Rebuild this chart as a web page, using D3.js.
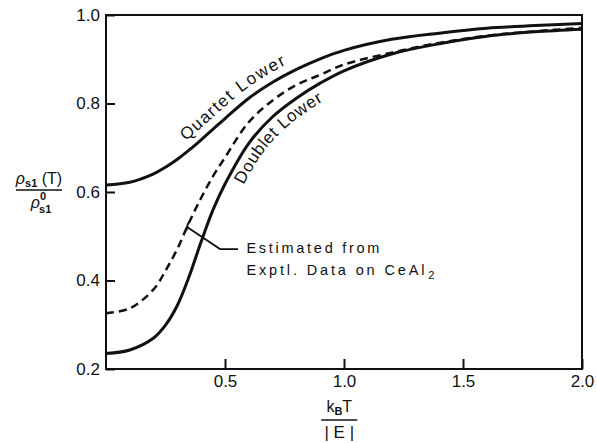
<!DOCTYPE html>
<html>
<head>
<meta charset="utf-8">
<script src="https://cdn.jsdelivr.net/npm/d3@7"></script>
<style>
  body { margin: 0; background: #fff; }
  svg { display: block; }
  text { font-family: "Liberation Sans", Arial, sans-serif; fill: #111; }
</style>
</head>
<body>
<svg width="597" height="443"></svg>
<script>
// values
var kT      = [0, 0.1, 0.2, 0.25, 0.3, 0.35, 0.4, 0.45, 0.5, 0.6, 0.7, 0.8, 0.9, 1.0, 1.2, 1.4, 1.6, 1.8, 2.0];
var quartet = [0.616, 0.622, 0.641, 0.656, 0.674, 0.695, 0.718, 0.742, 0.766, 0.812, 0.848, 0.877, 0.901, 0.920, 0.945, 0.959, 0.970, 0.976, 0.981];
var doublet = [0.235, 0.243, 0.270, 0.299, 0.344, 0.410, 0.488, 0.560, 0.618, 0.710, 0.770, 0.812, 0.846, 0.874, 0.912, 0.935, 0.952, 0.962, 0.968];
var estimated = [0.326, 0.337, 0.380, 0.422, 0.472, 0.532, 0.587, 0.636, 0.678, 0.758, 0.807, 0.842, 0.865, 0.888, 0.915, 0.937, 0.953, 0.963, 0.971];

var xTicks = [0.5, 1.0, 1.5, 2.0];
var yTicks = [0.2, 0.4, 0.6, 0.8, 1.0];

var margin = {top: 15, right: 15, bottom: 74, left: 106},
    width = 597 - margin.left - margin.right,
    height = 443 - margin.top - margin.bottom;

var svg = d3.select("svg");
var g = svg.append("g").attr("transform", "translate(" + margin.left + "," + margin.top + ")");

var x = d3.scaleLinear().domain([0, 2]).range([0, width]);
var y = d3.scaleLinear().domain([0.2, 1.0]).range([height, 0]);

//---------- axes (ticks point inward) ----------
var yAxis = g.append("g")
  .call(d3.axisLeft(y).tickValues(yTicks).tickFormat(d3.format(".1f"))
    .tickSizeInner(-9).tickSizeOuter(0).tickPadding(6));
var xAxis = g.append("g")
  .attr("transform", "translate(0," + height + ")")
  .call(d3.axisBottom(x).tickValues(xTicks).tickFormat(d3.format(".1f"))
    .tickSizeInner(-10).tickSizeOuter(0).tickPadding(6));

[yAxis, xAxis].forEach(function(a) {
  a.select(".domain").remove();
  a.selectAll("line").attr("stroke", "#111").attr("stroke-width", 2);
  a.selectAll("text").style("font-size", "17px").attr("fill", "#111")
    .style("font-family", "'Liberation Sans', Arial, sans-serif");
});

// frame
g.append("rect")
  .attr("x", x(0)).attr("y", y(1.0))
  .attr("width", x(2) - x(0)).attr("height", y(0.2) - y(1.0))
  .attr("fill", "none").attr("stroke", "#111").attr("stroke-width", 2);

//---------- curves ----------
function series(vals) { return kT.map(function(t, i) { return [t, vals[i]]; }); }

var line = d3.line()
  .x(function(d) { return x(d[0]); })
  .y(function(d) { return y(d[1]); })
  .curve(d3.curveCatmullRom.alpha(0.5));

var qPath = g.append("path").attr("id", "qcurve")
  .attr("d", line(series(quartet)))
  .attr("fill", "none").attr("stroke", "#111").attr("stroke-width", 3);

var dPath = g.append("path").attr("id", "dcurve")
  .attr("d", line(series(doublet)))
  .attr("fill", "none").attr("stroke", "#111").attr("stroke-width", 3);

var ePath = g.append("path")
  .attr("d", line(series(estimated)))
  .attr("fill", "none").attr("stroke", "#111").attr("stroke-width", 2.5)
  .attr("stroke-dasharray", "8,5");

// length along a path where it reaches a given pixel x
function offsetAt(path, px) {
  var node = path.node(), L = node.getTotalLength(), s = 0;
  while (s < L && node.getPointAtLength(s).x < px) s += 0.5;
  return s;
}
function pointAt(path, px) {
  return path.node().getPointAtLength(offsetAt(path, px));
}

// curve labels
g.append("text")
  .attr("dy", -9)
  .style("font-size", "17px").style("letter-spacing", "1.4px")
  .append("textPath")
  .attr("href", "#qcurve")
  .attr("startOffset", offsetAt(qPath, x(0.36)))
  .text("Quartet Lower");

g.append("text")
  .attr("dy", 17)
  .style("font-size", "17px").style("letter-spacing", "1.4px")
  .append("textPath")
  .attr("href", "#dcurve")
  .attr("startOffset", offsetAt(dPath, x(0.515)))
  .text("Doublet Lower");

//---------- annotation ----------
var p0 = pointAt(ePath, x(0.34));
g.append("path")
  .attr("d", "M" + p0.x + "," + p0.y + "L" + x(0.479) + "," + y(0.471) + "H" + x(0.555))
  .attr("fill", "none").attr("stroke", "#111").attr("stroke-width", 1.8);
g.append("line")
  .attr("x1", p0.x + 1).attr("y1", p0.y - 4)
  .attr("x2", p0.x - 1).attr("y2", p0.y + 4)
  .attr("stroke", "#111").attr("stroke-width", 2);

var note = g.append("g").style("font-size", "14.5px");
note.append("text")
  .attr("x", x(0.59)).attr("y", y(0.463))
  .attr("textLength", 133).attr("lengthAdjust", "spacing")
  .text("Estimated from");
var l2 = note.append("text")
  .attr("x", x(0.59)).attr("y", y(0.412));
l2.append("tspan").attr("textLength", 178).attr("lengthAdjust", "spacing").text("Exptl. Data on CeAl");
l2.append("tspan").attr("dx", 1).attr("dy", 4).style("font-size", "11px").text("2");

//---------- axis titles ----------
// y: rho_s1(T) / rho_s1^0
var yt = svg.append("g").attr("transform", "translate(39," + (y(0.6) + margin.top - 2) + ")");
var num = yt.append("text").attr("y", -6).attr("text-anchor", "middle").style("font-size", "16px");
num.append("tspan").style("font-style", "italic").text("ρ");
num.append("tspan").attr("dy", 3).style("font-size", "11px").style("font-weight", "bold").text("s1");
num.append("tspan").attr("dy", -3).text(" (T)");
yt.append("line").attr("x1", -23).attr("x2", 23).attr("y1", 0).attr("y2", 0)
  .attr("stroke", "#111").attr("stroke-width", 1.5);
var den = yt.append("text").attr("y", 18).attr("x", 2).attr("text-anchor", "middle").style("font-size", "16px");
den.append("tspan").style("font-style", "italic").text("ρ");
den.append("tspan").attr("dy", -8).style("font-size", "11px").style("font-weight", "bold").text("0");
den.append("tspan").attr("dx", -7).attr("dy", 13).style("font-size", "11px").style("font-weight", "bold").text("s1");

// x: k_B T / |E|
var xt = svg.append("g").attr("transform", "translate(" + (margin.left + x(0.98)) + ",420)");
var xn = xt.append("text").attr("y", -8).attr("text-anchor", "middle").style("font-size", "16px");
xn.append("tspan").text("k");
xn.append("tspan").attr("dy", 3).style("font-size", "11px").style("font-weight", "bold").text("B");
xn.append("tspan").attr("dy", -3).text("T");
xt.append("line").attr("x1", -18).attr("x2", 18).attr("y1", 0).attr("y2", 0)
  .attr("stroke", "#111").attr("stroke-width", 1.5);
xt.append("text").attr("y", 18).attr("text-anchor", "middle").style("font-size", "17px")
  .text("| E |");
</script>
</body>
</html>
